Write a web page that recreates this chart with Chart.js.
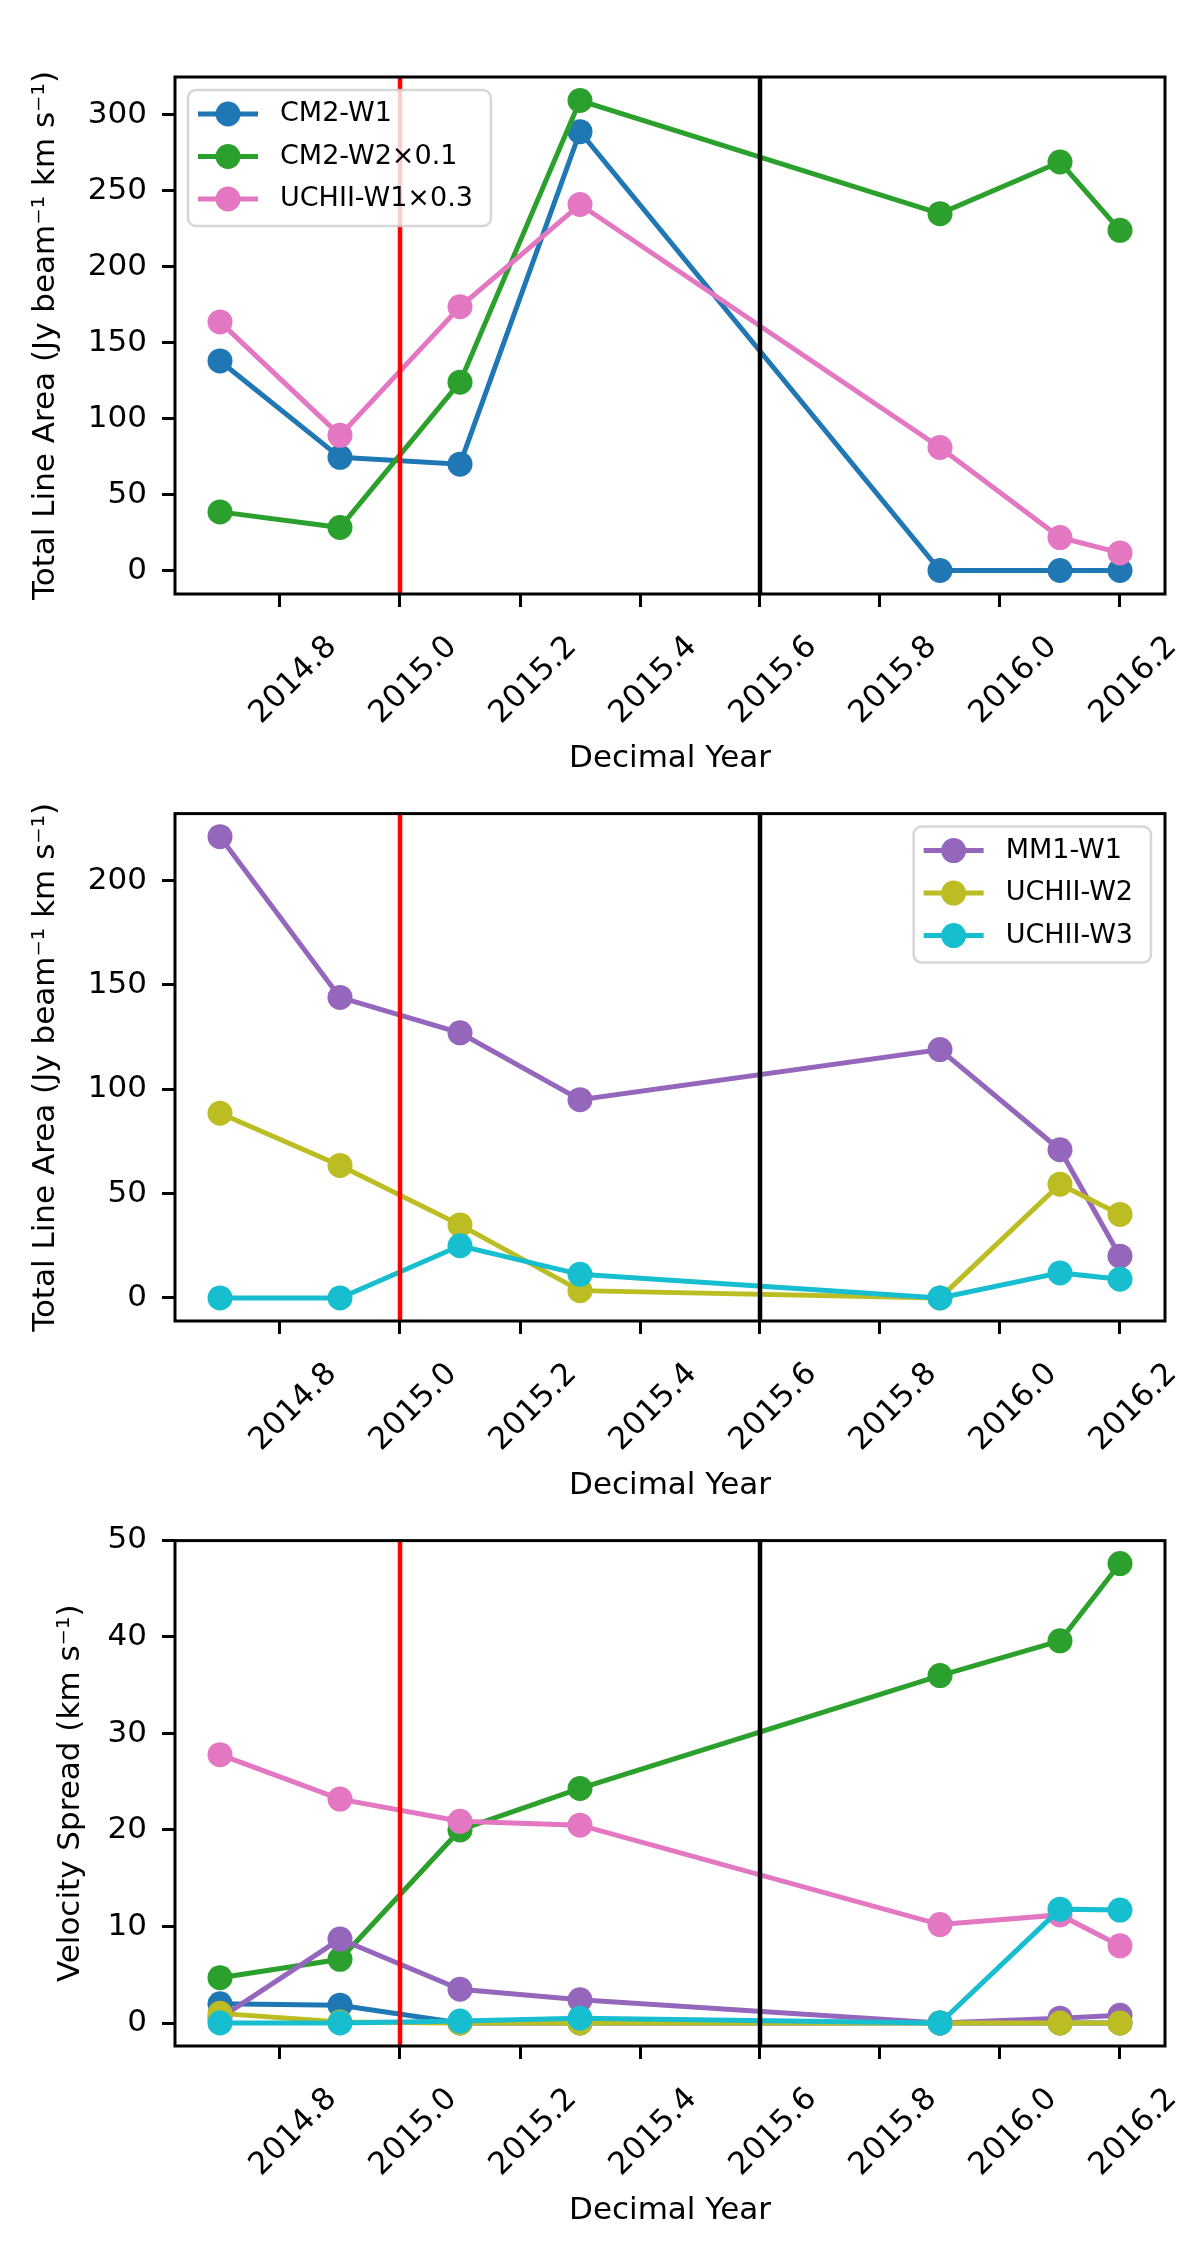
<!DOCTYPE html>
<html>
<head>
<meta charset="utf-8">
<script src="https://cdn.jsdelivr.net/npm/chart.js@4.4.1/dist/chart.umd.min.js"></script>
<style>
  html, body { margin: 0; padding: 0; background: #fff; }
  body { width: 1200px; height: 2253px; position: relative; overflow: hidden; }
  canvas { position: absolute; left: 0; }
</style>
</head>
<body>
<canvas id="areaTop" width="1200" height="780" style="top:0px"></canvas>
<canvas id="areaMid" width="1200" height="727" style="top:780px"></canvas>
<canvas id="spread" width="1200" height="725" style="top:1507px"></canvas>
<script>
// epochs (decimal year) and tick labels
var years = [2014.7, 2014.9, 2015.1, 2015.3, 2015.9, 2016.1, 2016.2];
var xTicks = [2014.8, 2015.0, 2015.2, 2015.4, 2015.6, 2015.8, 2016.0, 2016.2];
var markRed = 2015.0;
var markBlack = 2015.6;

// top panel: total line area
var cm2w1Area = [138, 74.5, 70, 289, 0, 0, 0];
var cm2w2Area01 = [38.6, 28.3, 124, 309.5, 235, 269, 224];
var uchiiW1Area03 = [163.7, 89, 173.7, 241, 81, 21.7, 11.6];
var areaTicksTop = [0, 50, 100, 150, 200, 250, 300];

// middle panel: total line area
var mm1w1Area = [221, 144, 127, 95, 119, 71, 20];
var uchiiW2Area = [88.5, 63.5, 35, 3.5, 0, 54.5, 40];
var uchiiW3Area = [0, 0, 25, 11.3, 0, 12, 9];
var areaTicksMid = [0, 50, 100, 150, 200];

// bottom panel: velocity spread
var cm2w1Spread = [2.0, 1.85, 0, 0, 0, 0, 0];
var cm2w2Spread = [4.7, 6.6, 20.0, 24.3, 36.0, 39.6, 47.6];
var uchiiW1Spread = [27.8, 23.2, 20.9, 20.5, 10.2, 11.2, 8.0];
var mm1w1Spread = [0.5, 8.7, 3.5, 2.4, 0, 0.5, 0.8];
var uchiiW2Spread = [1.0, 0.1, 0, 0, 0, 0, 0];
var uchiiW3Spread = [0, 0, 0.2, 0.5, 0, 11.8, 11.7];
var spreadTicks = [0, 10, 20, 30, 40, 50];

var BLUE = '#1f77b4', GREEN = '#2ca02c', PINK = '#e377c2',
    PURPLE = '#9467bd', OLIVE = '#bcbd22', CYAN = '#17becf';

Chart.defaults.font.family = "'DejaVu Sans', sans-serif";
Chart.defaults.color = '#000';

function series(label, vals, color, i) {
  return {
    label: label,
    data: years.map(function(x, k) { return {x: x, y: vals[k]}; }),
    borderColor: color,
    backgroundColor: color,
    borderWidth: 5,
    pointRadius: 12.5,
    pointHoverRadius: 12.5,
    pointBorderWidth: 0,
    tension: 0,
    order: 20 - i   // later series on top, like matplotlib
  };
}

// vertical epoch lines + full axes frame
var frame = {
  id: 'frame',
  afterDatasetsDraw: function(chart) {
    var ctx = chart.ctx, a = chart.chartArea, xs = chart.scales.x;
    ctx.save();
    [[markRed, '#ff0000'], [markBlack, '#000000']].forEach(function(m) {
      var px = xs.getPixelForValue(m[0]);
      ctx.strokeStyle = m[1];
      ctx.lineWidth = 4.5;
      ctx.beginPath();
      ctx.moveTo(px, a.top);
      ctx.lineTo(px, a.bottom);
      ctx.stroke();
    });
    ctx.strokeStyle = '#000';
    ctx.lineWidth = 3;
    ctx.strokeRect(a.left, a.top, a.right - a.left, a.bottom - a.top);
    ctx.restore();
  }
};

// matplotlib-style legend box inside the axes
var boxLegend = {
  id: 'boxLegend',
  afterDraw: function(chart, args, opts) {
    if (!opts.side) return;
    var ctx = chart.ctx, a = chart.chartArea;
    var sets = chart.data.datasets;
    ctx.save();
    ctx.font = "27px 'DejaVu Sans'";
    var tw = Math.max.apply(null, sets.map(function(d) { return ctx.measureText(d.label).width; }));
    var w = 92 + tw + 18, h = 136;
    var x = opts.side === 'left' ? a.left + 13 : a.right - 14 - w;
    var y = a.top + 13;
    ctx.beginPath();
    ctx.roundRect(x, y, w, h, 8);
    ctx.fillStyle = 'rgba(255,255,255,0.8)';
    ctx.fill();
    ctx.strokeStyle = 'rgba(204,204,204,0.8)';
    ctx.lineWidth = 2.5;
    ctx.stroke();
    sets.forEach(function(d, i) {
      var cy = y + 24 + i * 42.5;
      ctx.strokeStyle = d.borderColor;
      ctx.lineWidth = 5;
      ctx.beginPath();
      ctx.moveTo(x + 10, cy);
      ctx.lineTo(x + 70, cy);
      ctx.stroke();
      ctx.fillStyle = d.borderColor;
      ctx.beginPath();
      ctx.arc(x + 40, cy, 12.5, 0, 2 * Math.PI);
      ctx.fill();
      ctx.fillStyle = '#000';
      ctx.textAlign = 'left';
      ctx.textBaseline = 'middle';
      ctx.fillText(d.label, x + 92, cy);
    });
    ctx.restore();
  }
};

function limits(lists) {
  var all = [].concat.apply([], lists);
  var lo = Math.min.apply(null, all), hi = Math.max.apply(null, all);
  var m = (hi - lo) * 0.05;
  return [lo - m, hi + m];
}

function makePanel(id, sets, yTicks, yTitle, titlePad, padTop, legendSide) {
  var yl = limits(sets.map(function(s) { return s.data.map(function(p) { return p.y; }); }));
  var xl = limits([years]);
  new Chart(document.getElementById(id), {
    type: 'line',
    data: { datasets: sets },
    options: {
      responsive: false,
      animation: false,
      devicePixelRatio: 1,
      layout: { padding: { top: padTop, left: 0, right: 35, bottom: 0 } },
      plugins: {
        legend: { display: false },
        tooltip: { enabled: false },
        boxLegend: { side: legendSide }
      },
      scales: {
        x: {
          type: 'linear',
          min: xl[0],
          max: xl[1],
          afterBuildTicks: function(s) { s.ticks = xTicks.map(function(v) { return {value: v}; }); },
          afterFit: function(s) { s.height = 186; },
          grid: { drawOnChartArea: false, color: '#000', tickLength: 13, tickWidth: 3 },
          border: { display: false },
          ticks: {
            autoSkip: false, minRotation: 45, maxRotation: 45,
            labelOffset: 52, padding: 22,
            font: { size: 31 },
            callback: function(v) { return Number(v).toFixed(1); }
          },
          title: { display: true, text: 'Decimal Year', font: { size: 31 }, padding: { top: 0, bottom: 2 } }
        },
        y: {
          type: 'linear',
          min: yl[0],
          max: yl[1],
          afterBuildTicks: function(s) { s.ticks = yTicks.map(function(v) { return {value: v}; }); },
          afterFit: function(s) { s.width = 175; },
          grid: { drawOnChartArea: false, color: '#000', tickLength: 13, tickWidth: 3 },
          border: { display: false },
          ticks: { padding: 15, font: { size: 31 }, callback: function(v) { return String(v); } },
          title: { display: true, text: yTitle, font: { size: 31 }, padding: { top: titlePad, bottom: 0 } }
        }
      }
    },
    plugins: [frame, boxLegend]
  });
}

var areaTitle = 'Total Line Area (Jy beam\u207B\u00B9 km s\u207B\u00B9)';

makePanel('areaTop', [
  series('CM2-W1', cm2w1Area, BLUE, 0),
  series('CM2-W2\u00D70.1', cm2w2Area01, GREEN, 1),
  series('UCHII-W1\u00D70.3', uchiiW1Area03, PINK, 2)
], areaTicksTop, areaTitle, 27, 77, 'left');

makePanel('areaMid', [
  series('MM1-W1', mm1w1Area, PURPLE, 0),
  series('UCHII-W2', uchiiW2Area, OLIVE, 1),
  series('UCHII-W3', uchiiW3Area, CYAN, 2)
], areaTicksMid, areaTitle, 27, 21, 'right');

makePanel('spread', [
  series('CM2-W1', cm2w1Spread, BLUE, 0),
  series('CM2-W2', cm2w2Spread, GREEN, 1),
  series('UCHII-W1', uchiiW1Spread, PINK, 2),
  series('MM1-W1', mm1w1Spread, PURPLE, 3),
  series('UCHII-W2', uchiiW2Spread, OLIVE, 4),
  series('UCHII-W3', uchiiW3Spread, CYAN, 5)
], spreadTicks, 'Velocity Spread (km s\u207B\u00B9)', 52, 19, null);
</script>
</body>
</html>
